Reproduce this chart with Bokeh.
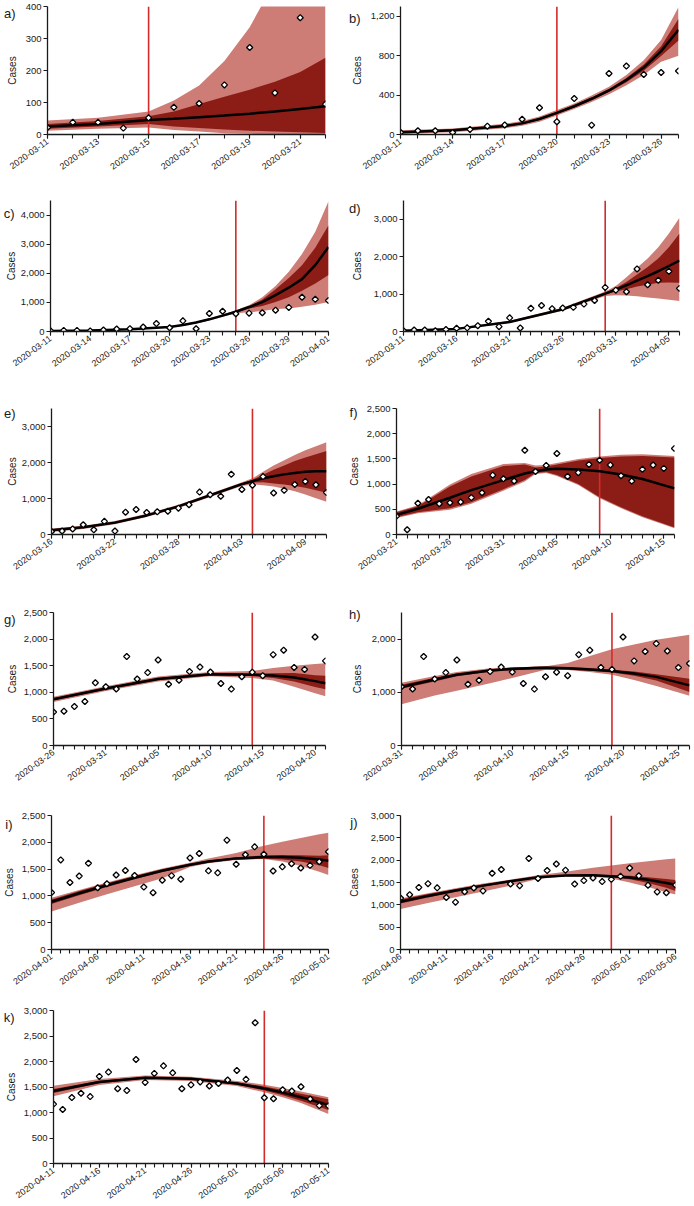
import math
import pandas as pd
from bokeh.plotting import figure
from bokeh.layouts import column, row
from bokeh.models import FixedTicker, NumeralTickFormatter, PrintfTickFormatter, LinearAxis
from bokeh.embed import file_html
from bokeh.resources import INLINE

# ---------------- data ----------------
case_dates = pd.date_range("2020-03-11", "2020-05-11").strftime("%Y-%m-%d").tolist()
daily_cases = [
    22, 38, 38, 20, 52, 85, 97, 155, 272, 130, 365, 95, 620, 695, 610, 630, 645, 732, 828, 1178, 1105,
    1062, 1672, 1250, 1370, 1608, 1152, 1227, 1390, 1474, 1380, 1165, 1060, 1293, 1378, 1312, 1708,
    1792, 1467, 1430, 2040, 1590, 1767, 1915, 1777, 1465, 1542, 1600, 1520, 1570, 1638,
    1825, 1650, 2760, 1290, 1270, 1445, 1420, 1505, 1265, 1135, 1130,
]
# value reported for 2020-05-03 in panel j (before revision)
j_overrides = {"2020-05-03": 1440}

fit_a = dict(
    dates=["2020-03-11", "2020-03-13", "2020-03-15", "2020-03-16", "2020-03-17", "2020-03-18",
           "2020-03-19", "2020-03-20", "2020-03-21", "2020-03-22"],
    mean=[25, 33, 45, 49, 54, 59, 65, 72, 80, 88],
    in_hi=[33, 42, 57, 72, 95, 118, 140, 165, 195, 240],
    in_lo=[18, 25, 33, 25, 20, 16, 12, 9, 7, 5],
    out_hi=[44, 52, 72, 106, 153, 230, 335, 480, 600, 700],
    out_lo=[12, 18, 22, 14, 9, 4, 2, 1, 1, 1],
)
fit_b = dict(
    dates=["2020-03-11", "2020-03-14", "2020-03-17", "2020-03-18", "2020-03-19", "2020-03-20",
           "2020-03-21", "2020-03-22", "2020-03-23", "2020-03-24", "2020-03-25", "2020-03-26", "2020-03-27"],
    mean=[23, 42, 87, 113, 157, 220, 287, 363, 447, 553, 680, 847, 1063],
    in_hi=[30, 50, 96, 123, 168, 232, 300, 377, 463, 575, 712, 897, 1175],
    in_lo=[16, 34, 78, 103, 146, 208, 274, 349, 431, 531, 648, 797, 955],
    out_hi=[42, 62, 110, 138, 184, 248, 316, 395, 485, 605, 755, 960, 1295],
    out_lo=[6, 22, 64, 88, 130, 192, 258, 331, 409, 500, 605, 740, 800],
)
fit_c = dict(
    dates=["2020-03-11", "2020-03-14", "2020-03-17", "2020-03-20", "2020-03-21", "2020-03-22",
           "2020-03-23", "2020-03-24", "2020-03-25", "2020-03-26", "2020-03-27", "2020-03-28",
           "2020-03-29", "2020-03-30", "2020-03-31", "2020-04-01"],
    mean=[15, 33, 77, 154, 220, 308, 418, 545, 680, 840, 1010, 1250, 1505, 1800, 2280, 2900],
    in_hi=[22, 40, 85, 164, 232, 322, 434, 563, 705, 860, 1100, 1450, 1835, 2275, 2880, 3650],
    in_lo=[8, 26, 69, 144, 208, 294, 402, 527, 655, 790, 879, 1011, 1176, 1396, 1648, 1945],
    out_hi=[32, 50, 96, 178, 248, 340, 454, 585, 730, 900, 1176, 1560, 2055, 2660, 3430, 4470],
    out_lo=[2, 16, 58, 130, 192, 276, 382, 505, 630, 660, 703, 770, 790, 846, 923, 1011],
)
fit_d = dict(
    dates=["2020-03-11", "2020-03-16", "2020-03-21", "2020-03-26", "2020-03-30", "2020-03-31",
           "2020-04-01", "2020-04-02", "2020-04-03", "2020-04-04", "2020-04-05", "2020-04-06"],
    mean=[20, 70, 255, 595, 1010, 1120, 1235, 1360, 1480, 1610, 1750, 1895],
    in_hi=[30, 80, 270, 615, 1040, 1160, 1320, 1520, 1720, 1950, 2250, 2620],
    in_lo=[10, 60, 240, 575, 980, 1070, 1130, 1200, 1250, 1300, 1310, 1300],
    out_hi=[45, 95, 285, 635, 1070, 1215, 1450, 1700, 1950, 2250, 2620, 3040],
    out_lo=[0, 45, 225, 555, 950, 970, 960, 940, 910, 880, 850, 815],
)
fit_e = dict(
    dates=["2020-03-16", "2020-03-19", "2020-03-22", "2020-03-25", "2020-03-28", "2020-03-31",
           "2020-04-03", "2020-04-04", "2020-04-05", "2020-04-06", "2020-04-07", "2020-04-08",
           "2020-04-09", "2020-04-10", "2020-04-11"],
    mean=[120, 200, 330, 530, 780, 1090, 1400, 1480, 1560, 1620, 1670, 1710, 1740, 1755, 1760],
    in_hi=[145, 222, 352, 552, 802, 1112, 1425, 1520, 1660, 1800, 1920, 2040, 2140, 2230, 2320],
    in_lo=[95, 178, 308, 508, 758, 1068, 1375, 1440, 1450, 1420, 1390, 1350, 1300, 1230, 1160],
    out_hi=[170, 245, 375, 575, 825, 1135, 1450, 1560, 1740, 1920, 2060, 2210, 2340, 2450, 2560],
    out_lo=[70, 155, 285, 485, 735, 1045, 1350, 1390, 1370, 1330, 1270, 1200, 1110, 1010, 910],
)
fit_f = dict(
    dates=["2020-03-21", "2020-03-23", "2020-03-26", "2020-03-28", "2020-03-31", "2020-04-02",
           "2020-04-03", "2020-04-04", "2020-04-05", "2020-04-07", "2020-04-09", "2020-04-11",
           "2020-04-13", "2020-04-16"],
    mean=[390, 510, 730, 880, 1080, 1210, 1255, 1290, 1305, 1290, 1255, 1190, 1100, 915],
    in_hi=[440, 560, 950, 1150, 1360, 1390, 1330, 1350, 1390, 1470, 1520, 1550, 1560, 1530],
    in_lo=[340, 440, 520, 640, 900, 1080, 1220, 1240, 1180, 1000, 740, 540, 360, 140],
    out_hi=[455, 580, 990, 1200, 1400, 1420, 1370, 1380, 1420, 1500, 1550, 1580, 1590, 1560],
    out_lo=[325, 420, 490, 610, 870, 1050, 1200, 1220, 1160, 980, 720, 520, 340, 125],
)
fit_g = dict(
    dates=["2020-03-26", "2020-03-31", "2020-04-05", "2020-04-10", "2020-04-14", "2020-04-16",
           "2020-04-18", "2020-04-20", "2020-04-21"],
    mean=[870, 1070, 1250, 1340, 1330, 1315, 1280, 1210, 1170],
    in_hi=[895, 1092, 1272, 1360, 1355, 1360, 1365, 1320, 1310],
    in_lo=[845, 1048, 1228, 1320, 1305, 1270, 1205, 1100, 1055],
    out_hi=[915, 1115, 1295, 1380, 1400, 1455, 1500, 1530, 1545],
    out_lo=[820, 1025, 1205, 1300, 1270, 1220, 1105, 980, 925],
)
fit_h = dict(
    dates=["2020-03-31", "2020-04-03", "2020-04-05", "2020-04-08", "2020-04-10", "2020-04-12",
           "2020-04-13", "2020-04-15", "2020-04-17", "2020-04-19", "2020-04-21", "2020-04-23", "2020-04-26"],
    mean=[1100, 1240, 1330, 1410, 1440, 1455, 1460, 1450, 1430, 1400, 1355, 1290, 1130],
    in_hi=[1140, 1275, 1360, 1435, 1465, 1478, 1485, 1475, 1455, 1425, 1390, 1340, 1255],
    in_lo=[1065, 1205, 1300, 1385, 1415, 1430, 1435, 1425, 1405, 1370, 1310, 1220, 1005],
    out_hi=[1180, 1305, 1380, 1450, 1470, 1482, 1490, 1550, 1680, 1810, 1900, 1990, 2080],
    out_lo=[775, 940, 1030, 1170, 1270, 1370, 1425, 1420, 1380, 1330, 1230, 1120, 935],
)
fit_i = dict(
    dates=["2020-04-01", "2020-04-04", "2020-04-07", "2020-04-10", "2020-04-13", "2020-04-16",
           "2020-04-18", "2020-04-21", "2020-04-24", "2020-04-26", "2020-04-28", "2020-04-30", "2020-05-01"],
    mean=[890, 1050, 1200, 1340, 1470, 1580, 1640, 1700, 1725, 1725, 1710, 1680, 1655],
    in_hi=[935, 1090, 1235, 1370, 1495, 1600, 1660, 1720, 1755, 1765, 1760, 1750, 1760],
    in_lo=[850, 1010, 1165, 1310, 1445, 1560, 1620, 1680, 1695, 1680, 1640, 1570, 1520],
    out_hi=[965, 1110, 1250, 1385, 1510, 1620, 1700, 1800, 1935, 2010, 2080, 2150, 2180],
    out_lo=[710, 870, 1030, 1180, 1330, 1540, 1610, 1670, 1690, 1640, 1560, 1450, 1390],
)
fit_j = dict(
    dates=["2020-04-06", "2020-04-09", "2020-04-12", "2020-04-15", "2020-04-18", "2020-04-21",
           "2020-04-24", "2020-04-27", "2020-04-29", "2020-05-01", "2020-05-03", "2020-05-05", "2020-05-06"],
    mean=[1070, 1200, 1320, 1430, 1530, 1620, 1655, 1660, 1640, 1610, 1560, 1490, 1450],
    in_hi=[1120, 1240, 1350, 1455, 1550, 1635, 1670, 1680, 1665, 1650, 1620, 1580, 1555],
    in_lo=[1030, 1165, 1290, 1405, 1510, 1605, 1640, 1640, 1615, 1570, 1490, 1380, 1310],
    out_hi=[1140, 1260, 1370, 1475, 1565, 1660, 1740, 1830, 1880, 1930, 1975, 2020, 2035],
    out_lo=[905, 1040, 1170, 1300, 1430, 1580, 1640, 1630, 1590, 1500, 1400, 1280, 1230],
)
fit_k = dict(
    dates=["2020-04-11", "2020-04-16", "2020-04-21", "2020-04-26", "2020-05-01", "2020-05-04",
           "2020-05-06", "2020-05-08", "2020-05-11"],
    mean=[1420, 1600, 1680, 1660, 1570, 1470, 1390, 1300, 1150],
    in_hi=[1460, 1625, 1700, 1680, 1595, 1510, 1440, 1370, 1260],
    in_lo=[1380, 1575, 1660, 1640, 1545, 1430, 1340, 1230, 1050],
    out_hi=[1525, 1655, 1725, 1700, 1620, 1545, 1480, 1410, 1300],
    out_lo=[1320, 1540, 1635, 1620, 1520, 1395, 1300, 1185, 970],
)

# panel: letter, first date, last date, forecast-start date, y max, y tick step, x label step
panels = [
    ("a", "2020-03-11", "2020-03-22", "2020-03-15", 400, 100, 2, fit_a, {}),
    ("b", "2020-03-11", "2020-03-27", "2020-03-20", 1300, 400, 3, fit_b, {}),
    ("c", "2020-03-11", "2020-04-01", "2020-03-25", 4500, 1000, 3, fit_c, {}),
    ("d", "2020-03-11", "2020-04-06", "2020-03-30", 3500, 1000, 5, fit_d, {}),
    ("e", "2020-03-16", "2020-04-11", "2020-04-04", 3500, 1000, 6, fit_e, {}),
    ("f", "2020-03-21", "2020-04-16", "2020-04-09", 2500, 500, 5, fit_f, {}),
    ("g", "2020-03-26", "2020-04-21", "2020-04-14", 2500, 500, 5, fit_g, {}),
    ("h", "2020-03-31", "2020-04-26", "2020-04-19", 2500, 1000, 5, fit_h, {}),
    ("i", "2020-04-01", "2020-05-01", "2020-04-24", 2500, 500, 5, fit_i, {}),
    ("j", "2020-04-06", "2020-05-06", "2020-04-29", 3000, 500, 5, fit_j, j_overrides),
    ("k", "2020-04-11", "2020-05-11", "2020-05-04", 3000, 500, 5, fit_k, {}),
]

# ---------------- geometry / style ----------------
# width, height, min_border left/right/top/bottom, letter drop, y-label standoff
geom = {
    "a": (345, 195, 46, 20, 6, 61, 0, 5),
    "b": (348, 195, 52, 15, 5, 60, 5, 5),
    "c": (345, 200, 47, 17, 5, 59, 7, 1),
    "d": (348, 200, 56, 14, 1, 64, 1, 8),
    "e": (345, 200, 46, 19, 2, 61, -2, 1),
    "f": (348, 200, 51, 19, 13, 52, -3, 4),
    "g": (345, 200, 49, 20, 17, 41, 0, 3),
    "h": (348, 200, 53, 4, 7, 50, -5, 6),
    "i": (345, 200, 50, 17, 13, 46, 2, 4),
    "j": (348, 200, 55, 18, 20, 45, 0, 8),
    "k": (345, 209, 50, 17, 15, 36, 0, 4),
}

FONT = "Liberation Sans"
INK = "#1a1a1a"
LIGHT = "#CD7D76"
DARK = "#8C1C16"
RED = "#D42B2B"

BASE = pd.Timestamp("2020-03-11")


def dnum(s):
    return (pd.Timestamp(s) - BASE).days


def dlabel(n):
    return (BASE + pd.Timedelta(days=int(n))).strftime("%Y-%m-%d")


def make_panel(letter, start, end, red, ymax, ystep, xstep, fit, overrides):
    w, h, mbl, mbr, mbt, mbb, drop, lstand = geom[letter]
    s, e = dnum(start), dnum(end)
    p = figure(width=w, height=h, x_range=(s, e), y_range=(0, ymax),
               output_backend="svg", toolbar_location=None,
               min_border_left=mbl, min_border_right=mbr,
               min_border_top=mbt, min_border_bottom=mbb,
               background_fill_color="white", border_fill_color="white")
    p.outline_line_color = None
    p.xgrid.visible = False
    p.ygrid.visible = False

    fx = [dnum(d) for d in fit["dates"]]
    p.varea(x=fx, y1=fit["out_lo"], y2=fit["out_hi"], fill_color=LIGHT)
    p.varea(x=fx, y1=fit["in_lo"], y2=fit["in_hi"], fill_color=DARK)
    rx = dnum(red)
    p.segment(x0=[rx], y0=[0], x1=[rx], y1=[ymax], line_color=RED, line_width=1.6)
    p.line(fx, fit["mean"], line_color="black", line_width=2.5)

    ox, oy = [], []
    for d, v in zip(case_dates, daily_cases):
        n = dnum(d)
        if s <= n <= e:
            ox.append(n)
            oy.append(overrides.get(d, v))
    p.scatter(ox, oy, marker="square", angle=math.pi / 4, size=4.3,
              fill_color="white", line_color="black", line_width=1.3)

    xa = p.xaxis[0]
    ya = p.yaxis[0]
    for ax in (xa, ya):
        ax.axis_line_color = INK
        ax.axis_line_width = 1.3
        ax.major_tick_line_color = INK
        ax.major_tick_line_width = 1.1
        ax.major_tick_in = 0
        ax.major_tick_out = 4
        ax.major_label_text_font = FONT
        ax.major_label_text_color = INK
        ax.major_label_standoff = 2
    label_days = list(range(s, e + 1, xstep))
    xa.ticker = FixedTicker(ticks=label_days, minor_ticks=list(range(s, e + 1)))
    xa.major_label_overrides = {n: dlabel(n) for n in label_days}
    xa.major_label_orientation = math.radians(36)
    xa.major_label_text_font_size = "9px"
    xa.minor_tick_line_color = INK
    xa.minor_tick_line_width = 1.1
    xa.minor_tick_in = 0
    xa.minor_tick_out = 4

    ya.ticker = FixedTicker(ticks=list(range(0, ymax + 1, ystep)))
    ya.formatter = NumeralTickFormatter(format="0,0")
    ya.major_label_text_font_size = "9.5px"
    ya.minor_tick_line_color = None
    ya.axis_label = "Cases"
    ya.axis_label_text_font = FONT
    ya.axis_label_text_font_size = "10px"
    ya.axis_label_text_font_style = "normal"
    ya.axis_label_text_color = INK
    ya.axis_label_standoff = lstand

    # panel letter: an outer left axis carrying one label near the top of the frame
    frame_h = h - mbt - max(mbb, 47)
    ytick = ymax - (7 + max(drop, -6)) * ymax / frame_h
    la = LinearAxis(ticker=FixedTicker(ticks=[ytick]),
                    formatter=PrintfTickFormatter(format=letter + ")"),
                    axis_line_color=None, major_tick_line_color=None,
                    minor_tick_line_color=None, major_tick_in=0, major_tick_out=0,
                    major_label_standoff=-12, major_label_text_font=FONT,
                    major_label_text_font_size="13px", major_label_text_color=INK)
    p.add_layout(la, "left")
    return p


figs = [make_panel(*spec) for spec in panels]
layout = column(
    row(figs[0], figs[1]),
    row(figs[2], figs[3]),
    row(figs[4], figs[5]),
    row(figs[6], figs[7]),
    row(figs[8], figs[9]),
    row(figs[10]),
)

open("out.html", "w").write(file_html(layout, INLINE))
